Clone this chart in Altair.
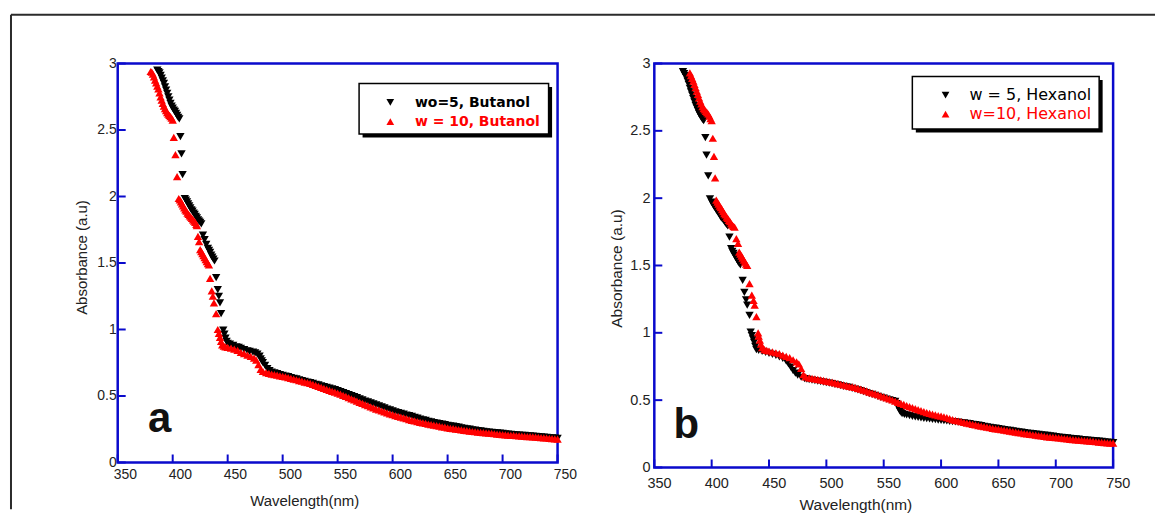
import altair as alt
import pandas as pd

# ---------------- data ----------------
X_TICKS = [350, 400, 450, 500, 550, 600, 650, 700, 750]
Y_TICKS = [0, 0.5, 1, 1.5, 2, 2.5, 3]
X_TITLE = "Wavelength(nm)"
Y_TITLE = "Absorbance (a.u)"
PANEL_LABELS = ["a", "b"]
BUT_NAMES = ["wo=5, Butanol", "w = 10, Butanol"]
HEX_NAMES = ["w = 5, Hexanol", "w=10, Hexanol"]

# (wavelength nm, absorbance)
BUT5 = [
    (386, 2.95), (387, 2.94), (388, 2.93), (389, 2.91), (390, 2.89), (391, 2.87), (392, 2.85),
    (393, 2.825), (394, 2.80), (395, 2.775), (396, 2.75), (397, 2.725), (398, 2.70), (399, 2.68),
    (400, 2.665), (401, 2.65), (402, 2.64), (403, 2.625), (404, 2.61), (405, 2.595), (406, 2.583),
    (407, 2.45), (408, 2.32), (409, 2.165),
    (411, 1.985), (412, 1.972), (413, 1.96), (414, 1.945), (415, 1.93), (416, 1.915), (417, 1.90),
    (418, 1.89), (419, 1.875), (420, 1.865), (421, 1.85), (422, 1.84), (423, 1.825), (424, 1.815),
    (425, 1.805), (426, 1.795),
    (427.5, 1.71), (429, 1.675),
    (430.5, 1.64), (432, 1.61), (433, 1.595), (434, 1.58), (435, 1.56), (436, 1.545), (437, 1.53),
    (438, 1.515),
    (439.5, 1.39), (441, 1.30), (442, 1.25), (443, 1.20), (444, 1.12),
    (446, 0.995), (447, 0.965), (448, 0.935), (449, 0.91), (450, 0.895), (452, 0.89), (455, 0.88),
    (458, 0.87), (460, 0.865), (462, 0.858), (465, 0.848), (468, 0.84), (470, 0.835), (473, 0.83),
    (475, 0.825), (477, 0.815), (479, 0.80), (480, 0.78), (481, 0.765), (482, 0.75), (484, 0.73),
    (486, 0.705), (488, 0.69), (490, 0.68), (492.5, 0.674), (495, 0.668), (497.5, 0.661),
    (500, 0.655), (502.5, 0.65), (505, 0.645), (507.5, 0.639), (510, 0.633), (512.5, 0.628),
    (515, 0.622), (517.5, 0.616), (520, 0.61), (522.5, 0.605), (525, 0.60), (527.5, 0.594),
    (530, 0.588), (532.5, 0.583), (535, 0.577), (537.5, 0.571), (540, 0.565), (542.5, 0.559),
    (545, 0.553), (547.5, 0.547), (550, 0.54), (552.5, 0.533), (555, 0.525), (557.5, 0.518),
    (560, 0.51), (562.5, 0.503), (565, 0.495), (567.5, 0.487), (570, 0.478), (572.5, 0.47),
    (575, 0.462), (577.5, 0.455), (580, 0.448), (582.5, 0.44), (585, 0.433), (587.5, 0.425),
    (590, 0.418), (592.5, 0.41), (595, 0.402), (597.5, 0.395), (600, 0.388), (602.5, 0.381),
    (605, 0.375), (607.5, 0.369), (610, 0.363), (612.5, 0.357), (615, 0.352), (617.5, 0.346),
    (620, 0.34), (622.5, 0.333), (625, 0.327), (627.5, 0.321), (630, 0.316), (632.5, 0.31),
    (635, 0.305), (637.5, 0.30), (640, 0.296), (642.5, 0.292), (645, 0.288), (647.5, 0.284),
    (650, 0.28), (652.5, 0.276), (655, 0.273), (657.5, 0.269), (660, 0.265), (662.5, 0.261),
    (665, 0.257), (667.5, 0.253), (670, 0.25), (672.5, 0.246), (675, 0.243), (677.5, 0.24),
    (680, 0.237), (682.5, 0.234), (685, 0.231), (687.5, 0.228), (690, 0.226), (692.5, 0.224),
    (695, 0.222), (697.5, 0.22), (700, 0.218), (702.5, 0.216), (705, 0.214), (707.5, 0.212),
    (710, 0.21), (712.5, 0.208), (715, 0.206), (717.5, 0.204), (720, 0.203), (722.5, 0.201),
    (725, 0.20), (727.5, 0.198), (730, 0.196), (732.5, 0.194), (735, 0.192), (737.5, 0.19),
    (740, 0.188), (742.5, 0.186), (745, 0.185), (747.5, 0.183), (750, 0.182),
]

BUT10 = [
    (380, 2.94), (381, 2.935), (382, 2.92), (383, 2.90), (384, 2.875), (385, 2.855), (386, 2.83),
    (387, 2.81), (388, 2.78), (389, 2.75), (390, 2.725), (391, 2.70), (392, 2.68), (393, 2.66),
    (394, 2.645), (395, 2.63), (396, 2.62), (397, 2.61), (398, 2.60), (399, 2.59), (400, 2.575),
    (401, 2.445), (402.5, 2.315), (404, 2.15),
    (405.5, 1.985), (406.5, 1.975), (407.5, 1.96), (408.5, 1.945), (409.5, 1.93), (410.5, 1.915),
    (411.5, 1.90), (412.5, 1.89), (413.5, 1.875), (414.5, 1.865), (415.5, 1.855), (416.5, 1.845),
    (417.5, 1.835), (418.5, 1.825), (419.5, 1.815), (420.5, 1.805), (421.5, 1.79), (422, 1.78),
    (423, 1.70), (424, 1.66),
    (425, 1.60), (426, 1.585), (427, 1.57), (428, 1.555), (429, 1.54), (430, 1.525), (431, 1.51),
    (432, 1.495), (433, 1.485),
    (434, 1.385), (435.5, 1.29), (436.5, 1.25), (437.5, 1.20), (439.5, 1.12),
    (441, 1.00), (442, 0.97), (443, 0.94), (444, 0.91), (445, 0.885), (446.5, 0.875), (448, 0.87),
    (450, 0.865), (453, 0.86), (456, 0.852), (459, 0.843), (462, 0.828), (465, 0.818), (468, 0.808),
    (471, 0.798), (474, 0.785), (476, 0.77), (478, 0.735), (480, 0.70), (482, 0.685), (485, 0.675),
    (487.5, 0.67), (490, 0.665), (492.5, 0.66), (495, 0.656), (497.5, 0.652),
    (500, 0.648), (502.5, 0.643), (505, 0.638), (507.5, 0.633), (510, 0.627), (512.5, 0.622),
    (515, 0.616), (517.5, 0.611), (520, 0.605), (522.5, 0.60), (525, 0.594), (527.5, 0.587),
    (530, 0.58), (532.5, 0.573), (535, 0.565), (537.5, 0.558), (540, 0.55), (542.5, 0.543),
    (545, 0.535), (547.5, 0.529), (550, 0.522), (552.5, 0.514), (555, 0.505), (557.5, 0.497),
    (560, 0.488), (562.5, 0.479), (565, 0.47), (567.5, 0.461), (570, 0.452), (572.5, 0.444),
    (575, 0.435), (577.5, 0.427), (580, 0.418), (582.5, 0.41), (585, 0.402), (587.5, 0.395),
    (590, 0.387), (592.5, 0.38), (595, 0.373), (597.5, 0.366), (600, 0.36), (602.5, 0.353),
    (605, 0.347), (607.5, 0.341), (610, 0.335), (612.5, 0.329), (615, 0.323), (617.5, 0.317),
    (620, 0.312), (622.5, 0.307), (625, 0.302), (627.5, 0.298), (630, 0.294), (632.5, 0.289),
    (635, 0.285), (637.5, 0.281), (640, 0.277), (642.5, 0.273), (645, 0.268), (647.5, 0.265),
    (650, 0.261), (652.5, 0.257), (655, 0.254), (657.5, 0.251), (660, 0.248), (662.5, 0.245),
    (665, 0.242), (667.5, 0.239), (670, 0.236), (672.5, 0.233), (675, 0.231), (677.5, 0.228),
    (680, 0.226), (682.5, 0.224), (685, 0.222), (687.5, 0.22), (690, 0.218), (692.5, 0.216),
    (695, 0.214), (697.5, 0.212), (700, 0.21), (702.5, 0.208), (705, 0.206), (707.5, 0.204),
    (710, 0.203), (712.5, 0.201), (715, 0.20), (717.5, 0.198), (720, 0.197), (722.5, 0.195),
    (725, 0.194), (727.5, 0.192), (730, 0.19), (732.5, 0.188), (735, 0.187), (737.5, 0.185),
    (740, 0.184), (742.5, 0.182), (745, 0.18), (747.5, 0.178), (750, 0.176),
]

HEX5 = [
    (375, 2.94), (376, 2.925), (377, 2.91), (378, 2.895), (379, 2.87), (380, 2.845), (381, 2.815),
    (382, 2.79), (383, 2.765), (384, 2.74), (385, 2.715), (386, 2.69), (387, 2.67), (388, 2.65),
    (389, 2.63), (390, 2.615), (391, 2.60), (392, 2.585), (393, 2.575),
    (394.5, 2.45), (395.5, 2.32), (397, 2.165),
    (398.5, 1.995), (400, 1.97), (401, 1.955), (402, 1.94), (403, 1.93), (404, 1.915), (405, 1.90),
    (406, 1.89), (407, 1.875), (408, 1.86), (409, 1.85), (410, 1.84), (411, 1.83), (412, 1.815),
    (413, 1.805), (414, 1.795),
    (415.5, 1.71), (417, 1.625),
    (418, 1.605), (419, 1.59), (420, 1.575), (421, 1.56), (422, 1.545), (423, 1.53), (424, 1.515),
    (425, 1.505),
    (427, 1.39), (428.5, 1.30), (430, 1.245), (431, 1.205), (433, 1.13),
    (434, 1.005), (435, 0.98), (436, 0.955), (437, 0.93), (438, 0.90), (439, 0.875), (441, 0.87),
    (444, 0.862), (447, 0.855), (450, 0.847), (453, 0.84), (456, 0.832), (459, 0.822), (462, 0.81),
    (465, 0.79), (467, 0.77), (469, 0.745), (471, 0.72), (473, 0.70), (475, 0.685), (478, 0.67),
    (481, 0.66), (483, 0.656), (485, 0.652), (487.5, 0.648), (490, 0.645), (492.5, 0.641),
    (495, 0.638), (497.5, 0.634),
    (500, 0.63), (502.5, 0.626), (505, 0.622), (507.5, 0.617), (510, 0.613), (512.5, 0.608),
    (515, 0.603), (517.5, 0.598), (520, 0.594), (522.5, 0.588), (525, 0.582), (527.5, 0.576),
    (530, 0.57), (532.5, 0.563), (535, 0.556), (537.5, 0.549), (540, 0.542), (542.5, 0.535),
    (545, 0.528), (547.5, 0.521), (550, 0.515), (552.5, 0.508), (555, 0.502), (557.5, 0.496),
    (560, 0.49), (561, 0.475), (562, 0.46), (563, 0.44), (564, 0.42), (565, 0.41), (566, 0.40),
    (568, 0.395), (570, 0.39), (572.5, 0.385), (575, 0.38), (577.5, 0.376), (580, 0.372),
    (582.5, 0.368), (585, 0.365), (587.5, 0.362), (590, 0.36), (592.5, 0.357), (595, 0.355),
    (597.5, 0.352), (600, 0.35), (602.5, 0.347), (605, 0.345), (607.5, 0.342), (610, 0.34),
    (612.5, 0.338), (615, 0.336), (617.5, 0.334), (620, 0.332), (622.5, 0.328), (625, 0.325),
    (627.5, 0.321), (630, 0.318), (632.5, 0.314), (635, 0.31), (637.5, 0.306), (640, 0.302),
    (642.5, 0.298), (645, 0.295), (647.5, 0.292), (650, 0.289), (652.5, 0.285), (655, 0.282),
    (657.5, 0.278), (660, 0.275), (662.5, 0.271), (665, 0.268), (667.5, 0.265), (670, 0.262),
    (672.5, 0.259), (675, 0.256), (677.5, 0.253), (680, 0.251), (682.5, 0.248), (685, 0.246),
    (687.5, 0.243), (690, 0.241), (692.5, 0.238), (695, 0.235), (697.5, 0.232), (700, 0.229),
    (702.5, 0.226), (705, 0.224), (707.5, 0.221), (710, 0.219), (712.5, 0.216), (715, 0.214),
    (717.5, 0.212), (720, 0.21), (722.5, 0.207), (725, 0.205), (727.5, 0.203), (730, 0.201),
    (732.5, 0.199), (735, 0.197), (737.5, 0.195), (740, 0.193), (742.5, 0.191), (745, 0.189),
    (747.5, 0.187), (750, 0.185),
]

HEX10 = [
    (381, 2.93), (382, 2.91), (383, 2.89), (384, 2.87), (385, 2.845), (386, 2.82), (387, 2.795),
    (388, 2.77), (389, 2.745), (390, 2.72), (391, 2.70), (392, 2.68), (393, 2.665), (394, 2.655),
    (395, 2.645), (396, 2.635), (397, 2.625), (398, 2.61), (399, 2.59), (400, 2.575),
    (401, 2.445), (402, 2.31), (403, 2.15),
    (404, 1.985), (405, 1.97), (406, 1.955), (407, 1.94), (408, 1.93), (409, 1.915), (410, 1.90),
    (411, 1.885), (412, 1.875), (413, 1.86), (414, 1.85), (415, 1.835), (416, 1.825), (417, 1.81),
    (418, 1.80), (419, 1.79), (420, 1.785),
    (421.5, 1.70), (423, 1.665),
    (424, 1.60), (425, 1.585), (426, 1.57), (427, 1.555), (428, 1.54), (429, 1.525), (430, 1.51),
    (431, 1.50),
    (433, 1.365), (435, 1.28), (436.5, 1.24), (437.5, 1.205), (439, 1.12),
    (440.5, 1.0), (441, 0.975), (442, 0.945), (443, 0.915), (444, 0.89), (446, 0.875), (448, 0.87),
    (450, 0.865), (453, 0.858), (456, 0.852), (459, 0.845), (462, 0.835), (465, 0.825), (468, 0.815),
    (471, 0.80), (474, 0.785), (476, 0.77), (478, 0.735), (480, 0.69), (482, 0.672), (485, 0.665),
    (487.5, 0.662), (490, 0.658), (492.5, 0.654), (495, 0.65), (497.5, 0.646),
    (500, 0.642), (502.5, 0.637), (505, 0.633), (507.5, 0.628), (510, 0.623), (512.5, 0.618),
    (515, 0.613), (517.5, 0.608), (520, 0.603), (522.5, 0.598), (525, 0.594), (527.5, 0.588),
    (530, 0.582), (532.5, 0.575), (535, 0.568), (537.5, 0.56), (540, 0.553), (542.5, 0.546),
    (545, 0.54), (547.5, 0.532), (550, 0.525), (552.5, 0.517), (555, 0.51), (557.5, 0.501),
    (560, 0.493), (562.5, 0.484), (565, 0.476), (567.5, 0.468), (570, 0.46), (572.5, 0.452),
    (575, 0.445), (577.5, 0.437), (580, 0.43), (582.5, 0.422), (585, 0.415), (587.5, 0.408),
    (590, 0.402), (592.5, 0.396), (595, 0.39), (597.5, 0.385), (600, 0.381), (602.5, 0.375),
    (605, 0.37), (607.5, 0.363), (610, 0.356), (612.5, 0.35), (615, 0.345), (617.5, 0.34),
    (620, 0.335), (622.5, 0.33), (625, 0.325), (627.5, 0.32), (630, 0.316), (632.5, 0.311),
    (635, 0.307), (637.5, 0.303), (640, 0.299), (642.5, 0.295), (645, 0.291), (647.5, 0.287),
    (650, 0.284), (652.5, 0.28), (655, 0.277), (657.5, 0.273), (660, 0.27), (662.5, 0.266),
    (665, 0.263), (667.5, 0.259), (670, 0.256), (672.5, 0.252), (675, 0.249), (677.5, 0.246),
    (680, 0.243), (682.5, 0.24), (685, 0.237), (687.5, 0.234), (690, 0.231), (692.5, 0.228),
    (695, 0.226), (697.5, 0.224), (700, 0.222), (702.5, 0.219), (705, 0.217), (707.5, 0.214),
    (710, 0.212), (712.5, 0.209), (715, 0.207), (717.5, 0.205), (720, 0.203), (722.5, 0.201),
    (725, 0.199), (727.5, 0.197), (730, 0.195), (732.5, 0.193), (735, 0.191), (737.5, 0.189),
    (740, 0.187), (742.5, 0.185), (745, 0.183), (747.5, 0.181), (750, 0.18),
]

BLUE = "#0a0acc"
TXT = "#222222"
FRAME = "#2b2b2b"
ONE = pd.DataFrame({"k": [0]})
X_DOMAIN = [350, 750]
Y_DOMAIN = [0, 3]


def df(points):
    return pd.DataFrame(points, columns=["wl", "A"])


def panel(black_pts, red_pts, names, label, c):
    x_axis = alt.Axis(
        values=X_TICKS, title=X_TITLE, grid=False, domain=False,
        ticks=True, tickSize=0, tickWidth=0,
        labelFlush=False, labelOverlap=False, labelFont="Liberation Sans",
        labelFontSize=c["lfs"], labelColor=TXT, labelPadding=c["xpad"], labelOffset=c["xoff"],
        titleFont="Liberation Sans", titleFontSize=c["tfs"], titleFontWeight="normal",
        titleColor=TXT, titleX=c["xtx"], titleY=c["xty"], titleAlign="center",
        titleBaseline="alphabetic",
    )
    y_axis = alt.Axis(
        values=Y_TICKS, title=Y_TITLE, grid=False, domain=False, format="~g",
        ticks=True, tickSize=0, tickWidth=0,
        labelFlush=False, labelOverlap=False, labelFont="Liberation Sans",
        labelFontSize=c["lfs"], labelColor=TXT, labelPadding=c["ypad"],
        titleFont="Liberation Sans", titleFontSize=c["tfs"], titleFontWeight="normal",
        titleColor=TXT, titleX=c["ytx"], titleY=c["yty"], titleAlign="center",
        titleBaseline="middle", titleAngle=270,
    )
    xs = alt.Scale(domain=X_DOMAIN, nice=False, zero=False)
    ys = alt.Scale(domain=Y_DOMAIN, nice=False, zero=False)
    x_enc = alt.X("wl:Q", scale=xs, axis=x_axis)
    y_enc = alt.Y("A:Q", scale=ys, axis=y_axis)

    h = c["h"]
    # inward ticks, placed through the same scales (same fields, same axes)
    xticks = alt.Chart(pd.DataFrame({"wl": X_TICKS})).mark_rule(color=BLUE, strokeWidth=2).encode(
        x=x_enc, y=alt.value(h), y2=alt.value(h - 8))
    yticks = alt.Chart(pd.DataFrame({"A": Y_TICKS})).mark_rule(color=BLUE, strokeWidth=2).encode(
        y=y_enc, x=alt.value(0), x2=alt.value(8))

    black = alt.Chart(df(black_pts)).mark_point(
        shape="triangle-down", filled=True, size=70, opacity=1, color="#000000", strokeWidth=0
    ).encode(x=x_enc, y=y_enc)
    red = alt.Chart(df(red_pts)).mark_point(
        shape="triangle-up", filled=True, size=70, opacity=1, color="#ff0000", strokeWidth=0
    ).encode(x=x_enc, y=y_enc)

    bx0, bx1, by0, by1, sh = c["box"]
    shadow = alt.Chart(ONE).mark_rect(color="#000000").encode(
        x=alt.value(bx0 + sh), x2=alt.value(bx1 + sh), y=alt.value(by0 + sh), y2=alt.value(by1 + sh))
    box = alt.Chart(ONE).mark_rect(fill="#ffffff", stroke="#000000", strokeWidth=1.5).encode(
        x=alt.value(bx0), x2=alt.value(bx1), y=alt.value(by0), y2=alt.value(by1))
    sx, sy1, sy2 = c["sym"]
    sym1 = alt.Chart(ONE).mark_point(shape="triangle-down", filled=True, size=60, opacity=1,
                                     color="#000000", strokeWidth=0).encode(
        x=alt.value(sx), y=alt.value(sy1))
    sym2 = alt.Chart(ONE).mark_point(shape="triangle-up", filled=True, size=60, opacity=1,
                                     color="#ff0000", strokeWidth=0).encode(
        x=alt.value(sx), y=alt.value(sy2))
    tx, ty1, ty2 = c["txt"]
    t1 = alt.Chart(ONE).mark_text(text=names[0], align="left", baseline="alphabetic",
                                  font="DejaVu Sans", fontSize=c["legfs"], fontWeight=c["legfw"],
                                  color="#000000").encode(x=alt.value(tx), y=alt.value(ty1))
    t2 = alt.Chart(ONE).mark_text(text=names[1], align="left", baseline="alphabetic",
                                  font="DejaVu Sans", fontSize=c["legfs"], fontWeight=c["legfw"],
                                  color="#ff0000").encode(x=alt.value(tx), y=alt.value(ty2))
    lx, ly = c["lab"]
    lab = alt.Chart(ONE).mark_text(text=label, align="center", baseline="alphabetic",
                                   font="Liberation Sans", fontSize=42, fontWeight="bold",
                                   color="#111111").encode(x=alt.value(lx), y=alt.value(ly))
    layers = [black, red, xticks, yticks, shadow, box, sym1, sym2, t1, t2, lab]
    if c.get("frame"):
        vline = alt.Chart(ONE).mark_rule(color=FRAME, strokeWidth=2).encode(
            x=alt.value(-107), y=alt.value(-49), y2=alt.value(447))
        hline = alt.Chart(ONE).mark_rule(color=FRAME, strokeWidth=2).encode(
            x=alt.value(-107), x2=alt.value(1040), y=alt.value(-49))
        layers = [vline, hline] + layers
    return alt.layer(*layers).properties(width=c["w"], height=c["h"])


left_cfg = dict(w=441, h=400, lfs=14, tfs=15, xpad=5.5, xoff=7.3, ypad=1.5,
                xtx=187, xty=43, ytx=-36.4, yty=194,
                box=(242, 432, 20, 70.7, 3.5), sym=(273.3, 39, 58.3), txt=(298, 44, 63),
                legfs=14, legfw="bold", lab=(42, 369), frame=True)
right_cfg = dict(w=460, h=405, lfs=14.5, tfs=15.5, xpad=9, xoff=4.7, ypad=4.4,
                 xtx=201.6, xty=42, ytx=-38, yty=205,
                 box=(258.7, 446, 13, 65.7, 3.5), sym=(292, 31.7, 50.7), txt=(316, 36.3, 55.7),
                 legfs=16, legfw="normal", lab=(32, 375))

left = panel(BUT5, BUT10, BUT_NAMES, PANEL_LABELS[0], left_cfg)
right = panel(HEX5, HEX10, HEX_NAMES, PANEL_LABELS[1], right_cfg)

chart = alt.hconcat(left, right, spacing=97, bounds="flush").configure_view(
    stroke=BLUE, strokeWidth=2.5
).properties(
    padding={"left": 0, "top": 3, "right": 0, "bottom": 0}, background="#ffffff"
)

chart.save("out.html", embed_options={"renderer": "svg", "actions": False})
